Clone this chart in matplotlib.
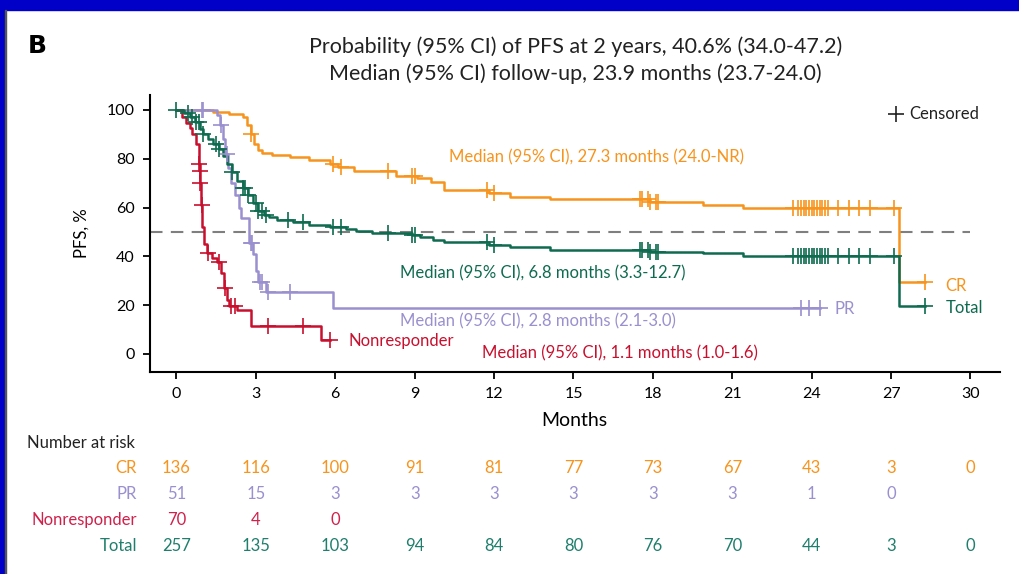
import numpy as np
import matplotlib.pyplot as plt
import matplotlib.transforms as mtransforms

plt.rcParams['font.family'] = ['Lato', 'DejaVu Sans']

# step curves (month, PFS %)
cr_t = [0, 1.4, 2.0, 2.5, 2.65, 2.8, 2.95, 3.1, 3.25, 3.6, 4.3, 5.0, 5.8, 6.1, 6.7, 8.3, 9.1, 9.6,
        10.1, 11.8, 12.6, 14.1, 17.9, 19.9, 21.4, 27.3]
cr_s = [100, 99.3, 98.5, 97, 94, 90, 86, 83.5, 82.5, 81.5, 80.5, 79.5, 78, 76.5, 75, 73, 72, 70.5,
        67.2, 66, 64.5, 63.5, 62.3, 61, 59.8, 29.5]
cr_cens = [2.8, 5.9, 6.2, 8.0, 8.9, 9.0, 11.75, 12.0, 17.5, 17.6, 17.8, 17.9, 18.1, 18.2,
           23.3, 23.5, 23.6, 23.7, 23.8, 23.9, 24.0, 24.1, 24.2, 24.3, 24.4, 24.5, 24.6,
           25.0, 25.4, 25.8, 26.2, 27.1, 28.3]

pr_t = [0, 1.55, 1.65, 1.75, 1.85, 1.95, 2.05, 2.2, 2.35, 2.45, 2.75, 2.9, 3.0, 3.1, 3.4, 5.9]
pr_s = [100, 98, 94, 88, 82, 76, 70, 65, 60, 55.7, 45.5, 41, 34, 29.5, 25.5, 19]
pr_cens = [0.95, 1.0, 1.7, 1.9, 2.8, 2.85, 3.15, 3.25, 3.45, 4.3, 23.6, 23.9, 24.3]

nr_t = [0, 0.2, 0.35, 0.5, 0.6, 0.75, 0.86, 0.88, 0.9, 0.93, 0.97, 1.05, 1.15, 1.35, 1.55, 1.7,
        1.8, 1.9, 2.0, 2.3, 2.8, 5.45]
nr_s = [100, 97, 94.5, 92.5, 90, 86, 78, 75, 70, 61, 52, 45, 41.5, 39.5, 37.5, 33,
        27, 22, 19.5, 18, 11.5, 5.7]
nr_cens = [0.87, 0.89, 0.91, 0.95, 1.2, 1.6, 1.85, 2.05, 2.2, 3.45, 4.8, 5.8]

tot_t = [0, 0.3, 0.5, 0.7, 0.9, 1.0, 1.2, 1.4, 1.6, 1.75, 1.9, 2.1, 2.3, 2.5, 2.7, 2.9, 3.1, 3.3,
         3.5, 3.8, 4.4, 5.0, 5.8, 6.4, 6.8, 7.4, 8.9, 9.2, 9.7, 10.1, 11.8, 12.6, 14.1, 17.9,
         19.9, 21.4, 27.3]
tot_s = [100, 98.8, 97, 95, 92, 90, 88, 86, 84, 81, 78, 74.5, 71, 68, 65, 62, 58.5, 57,
         56, 55, 54, 53, 52, 51, 50.3, 49.6, 48.8, 48, 46.7, 45.9, 44.7, 43.9, 42.6, 41.8,
         41.4, 40.2, 19.7]
tot_cens = [0.0, 0.45, 0.6, 0.75, 0.85, 1.0, 1.5, 1.6, 2.1, 2.5, 2.6, 2.7, 3.0, 3.1, 3.25,
            3.4, 4.2, 4.8, 5.9, 6.2, 8.0, 8.9, 9.0, 11.75, 12.0, 17.5, 17.6, 17.8, 17.9,
            18.1, 18.2, 23.3, 23.5, 23.6, 23.7, 23.8, 23.9, 24.0, 24.1, 24.2, 24.3, 24.4,
            24.5, 24.6, 25.0, 25.4, 25.8, 26.2, 27.1, 28.3]

# number at risk
risk_months = [0, 3, 6, 9, 12, 15, 18, 21, 24, 27, 30]
risk_cr = [136, 116, 100, 91, 81, 77, 73, 67, 43, 3, 0]
risk_pr = [51, 15, 3, 3, 3, 3, 3, 3, 1, 0]
risk_nr = [70, 4, 0]
risk_tot = [257, 135, 103, 94, 84, 80, 76, 70, 44, 3, 0]

ORANGE = '#F7941D'
PURPLE = '#9A90CF'
RED = '#C8102E'
GREEN = '#0E6B4F'


def step_val(ts, ss, x):
    i = np.searchsorted(ts, x, side='right') - 1
    return np.array(ss)[i]


fig = plt.figure(figsize=(10.2, 5.74), dpi=100)
ax = fig.add_axes([0.147, 0.352, 0.833, 0.482])

curves = [
    (cr_t, cr_s, cr_cens, ORANGE, 28.3),
    (pr_t, pr_s, pr_cens, PURPLE, 24.3),
    (nr_t, nr_s, nr_cens, RED, 5.8),
    (tot_t, tot_s, tot_cens, GREEN, 28.3),
]
for ts, ss, cens, col, tend in curves:
    x = list(ts) + [tend]
    y = list(ss) + [ss[-1]]
    ax.step(x, y, where='post', color=col, lw=1.8, zorder=3)
    cy = [step_val(ts, ss, c) for c in cens]
    ax.plot(cens, cy, ls='none', marker='+', ms=11, mew=1.2, color=col, zorder=4)

ax.hlines(50, -1, 30, colors='#7f7f7f', linestyles=(0, (6, 4)), lw=1.5, zorder=2)

ax.set_xlim(-1, 31.1)
ax.set_ylim(-7.4, 106)
ax.set_xticks(risk_months)
ax.set_yticks([0, 20, 40, 60, 80, 100])
ax.spines['top'].set_visible(False)
ax.spines['right'].set_visible(False)
ax.spines['left'].set_linewidth(1.5)
ax.spines['bottom'].set_linewidth(1.5)
ax.tick_params(direction='out', length=5, width=1.3, labelsize=11.5, pad=6)
ax.set_xlabel('Months', fontsize=14, labelpad=8)
ax.set_ylabel('PFS, %', fontsize=12, labelpad=12)

# annotations
ax.text(10.3, 80.7, 'Median (95% CI), 27.3 months (24.0-NR)', color=ORANGE, fontsize=12, va='center')
ax.text(8.46, 33.2, 'Median (95% CI), 6.8 months (3.3-12.7)', color=GREEN, fontsize=12, va='center')
ax.text(8.46, 13.5, 'Median (95% CI), 2.8 months (2.1-3.0)', color=PURPLE, fontsize=12, va='center')
ax.text(6.5, 5.3, 'Nonresponder', color=RED, fontsize=12, va='center')
ax.text(11.56, 0.4, 'Median (95% CI), 1.1 months (1.0-1.6)', color=RED, fontsize=12, va='center')
ax.text(24.85, 18.6, 'PR', color=PURPLE, fontsize=12, va='center')
ax.text(29.05, 28.0, 'CR', color=ORANGE, fontsize=12, va='center')
ax.text(29.05, 18.8, 'Total', color=GREEN, fontsize=12, va='center')

# censored key
ax.plot([27.2], [98.3], ls='none', marker='+', ms=11, mew=1.2, color='#222222')
ax.text(27.7, 98.3, 'Censored', color='#222222', fontsize=12, va='center')

# titles
fig.text(0.027, 0.92, 'B', fontsize=18, fontweight='bold', va='center', family='DejaVu Sans')
fig.text(0.564, 0.918, 'Probability (95% CI) of PFS at 2 years, 40.6% (34.0-47.2)',
         fontsize=15.5, ha='center', va='center', color='#222222')
fig.text(0.564, 0.872, 'Median (95% CI) follow-up, 23.9 months (23.7-24.0)',
         fontsize=15.5, ha='center', va='center', color='#222222')

# number at risk table
tr = mtransforms.blended_transform_factory(ax.transData, fig.transFigure)
fig.text(0.026, 1 - 443 / 574, 'Number at risk', fontsize=12, va='center', color='#222222')
rows = [('CR', risk_cr, ORANGE, 468), ('PR', risk_pr, PURPLE, 494),
        ('Nonresponder', risk_nr, '#D0214B', 520), ('Total', risk_tot, '#1F7F6C', 546)]
for name, vals, col, py in rows:
    yf = 1 - py / 574
    fig.text(137 / 1020, yf, name, fontsize=12, ha='right', va='center', color=col)
    for m, v in zip(risk_months, vals):
        ax.text(m, yf, str(v), transform=tr, fontsize=12, ha='center', va='center', color=col)

# page frame
fig.patches.append(plt.Rectangle((0, 1 - 10 / 574), 1, 10 / 574, transform=fig.transFigure,
                                 color='#0000C8', zorder=10))
fig.patches.append(plt.Rectangle((0, 0), 5 / 1020, 1, transform=fig.transFigure,
                                 color='#0000C8', zorder=10))
fig.patches.append(plt.Rectangle((5 / 1020, 0), 1.5 / 1020, 1 - 10 / 574, transform=fig.transFigure,
                                 color='#555555', zorder=10))

fig.savefig('out.png', dpi=100)
